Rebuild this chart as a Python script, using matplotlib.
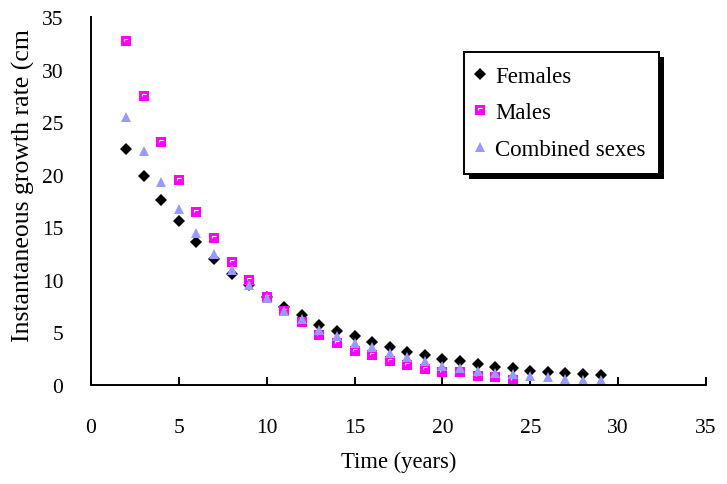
import numpy as np
import matplotlib
matplotlib.use("Agg")
import matplotlib.pyplot as plt
from matplotlib.path import Path
from matplotlib.patches import Rectangle
from matplotlib.transforms import IdentityTransform
from matplotlib.legend_handler import HandlerTuple

plt.rcParams['font.family'] = ['Liberation Serif', 'DejaVu Serif']

# Data
years_f = list(range(2, 30))
females = [22.45, 19.86, 17.6, 15.6, 13.6, 12.0, 10.6, 9.5, 8.4, 7.4, 6.65, 5.7, 5.17, 4.63,
           4.06, 3.58, 3.1, 2.85, 2.47, 2.25, 2.0, 1.74, 1.59, 1.36, 1.2, 1.14, 1.05, 0.98]

years_m = list(range(2, 25))
males = [32.7, 27.5, 23.15, 19.5, 16.5, 14.0, 11.7, 10.0, 8.34, 7.0, 6.0, 4.8, 4.0, 3.27,
         2.85, 2.25, 1.9, 1.52, 1.2, 1.2, 0.89, 0.73, 0.5]

years_c = list(range(2, 30))
combined = [25.5, 22.3, 19.28, 16.75, 14.45, 12.46, 10.97, 9.5, 8.25, 7.07, 6.3, 5.26, 4.63, 4.0,
            3.58, 3.04, 2.63, 2.3, 1.84, 1.59, 1.36, 1.14, 1.05, 0.83, 0.73, 0.57, 0.5, 0.5]

x_ticks = [0, 5, 10, 15, 20, 25, 30, 35]
y_ticks = [0, 5, 10, 15, 20, 25, 30, 35]

fig = plt.figure(figsize=(7.27, 4.85), dpi=100)
ax = fig.add_axes([91 / 727, 1 - 386 / 485, 615 / 727, 368 / 485])

hf, = ax.plot(years_f, females, ls="none", marker="D", ms=6.3, mew=0, color="black")

# Excel-like square with white corner highlight
ms_sq = 6.5
corner = Path([(-0.55, -0.05), (-0.55, 0.55), (0.5, 0.55)],
              [Path.MOVETO, Path.LINETO, Path.LINETO])
hm, = ax.plot(years_m, males, ls="none", marker="s", ms=ms_sq, mew=0, color="#FF00FF")
hm2, = ax.plot(years_m, males, ls="none", marker=corner, ms=ms_sq * 0.55, mew=0.8,
               mfc="none", mec="white")

hc, = ax.plot(years_c, combined, ls="none", marker="^", ms=7.8, mew=0, color="#9999FF")

ax.set_xlim(0, 35)
ax.set_ylim(0, 35)
ax.set_xticks(x_ticks)
ax.set_yticks(y_ticks)
ax.spines["top"].set_visible(False)
ax.spines["right"].set_visible(False)
for s in ("left", "bottom"):
    ax.spines[s].set_linewidth(1.4)
ax.tick_params(axis="x", direction="in", length=6, width=1.4, pad=24, labelsize=15.5)
ax.tick_params(axis="y", length=0, pad=20, labelsize=15.5)

ax.set_xlabel("Time (years)", fontsize=16.3, labelpad=10)
fig.text(23 / 727, 1 - 342 / 485, "Instantaneous growth rate (cm", rotation=90,
         ha="center", va="bottom", fontsize=18.5)

leg = ax.legend([hf, (hm, hm2), hc], ["Females", "Males", "Combined sexes"],
                handler_map={tuple: HandlerTuple(ndivide=1)},
                loc="upper left", bbox_to_anchor=(464, 485 - 53),
                bbox_transform=IdentityTransform(), borderaxespad=0,
                fontsize=16.5, frameon=True, fancybox=False,
                framealpha=1, edgecolor="black", handlelength=0.2, handletextpad=0.55,
                labelspacing=0.68, borderpad=0.6, numpoints=1)
leg.get_frame().set_linewidth(1.4)
leg.set_zorder(6)

fig.canvas.draw()
bb = leg.get_window_extent()
shadow = Rectangle((bb.x0 + 5, bb.y0 - 5), bb.width, bb.height, transform=IdentityTransform(),
                   facecolor="black", edgecolor="none", zorder=5.5, clip_on=False)
ax.add_patch(shadow)

fig.savefig("out.png", dpi=100)
